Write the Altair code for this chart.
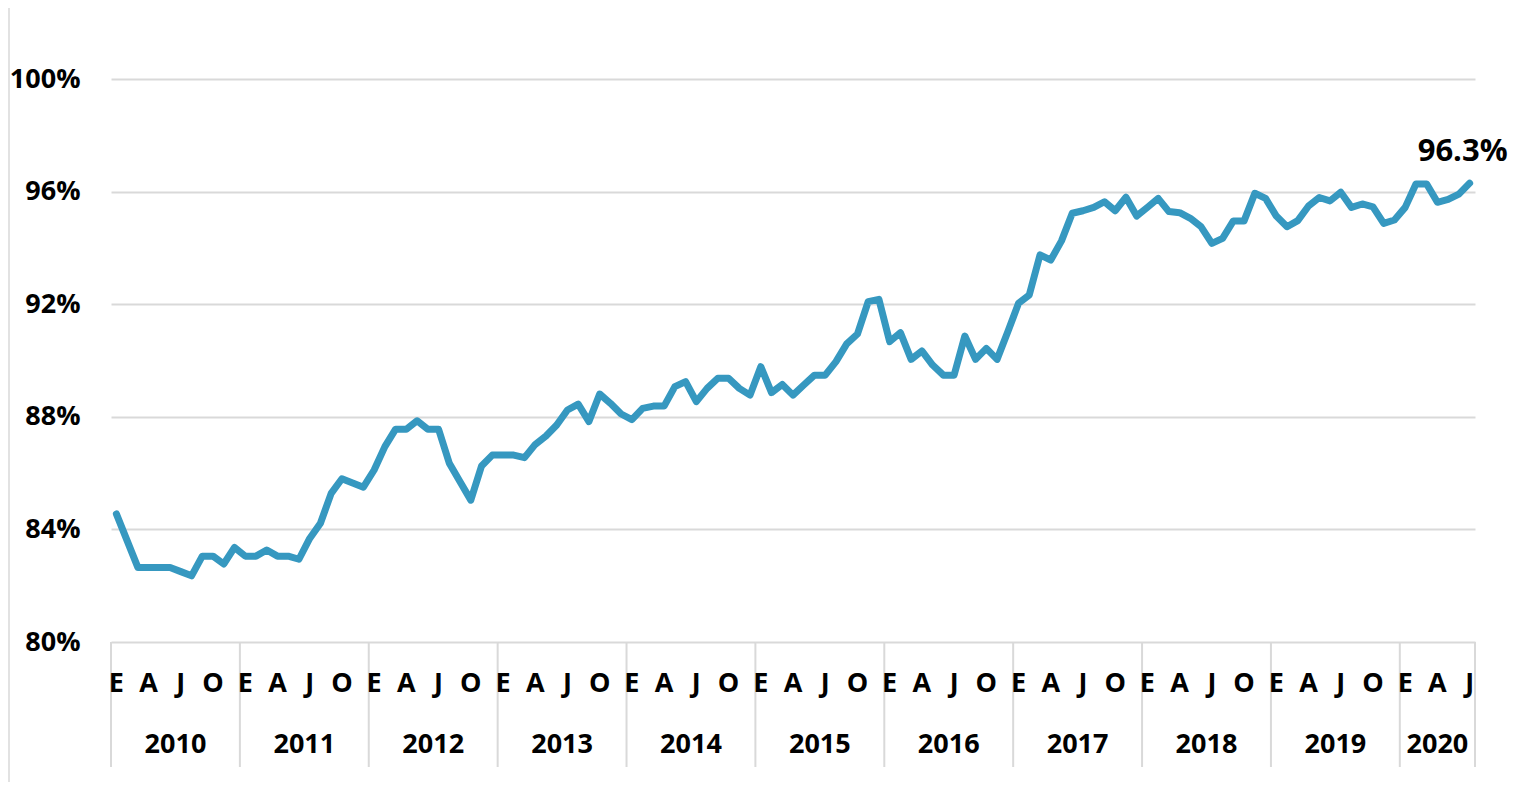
import altair as alt
import pandas as pd

# Monthly values (%), Jan 2010 - Jul 2020
v2010 = [84.55, 83.6, 82.65, 82.65, 82.65, 82.65, 82.5, 82.35, 83.05, 83.05, 82.77, 83.36]
v2011 = [83.05, 83.05, 83.27, 83.05, 83.05, 82.94, 83.68, 84.22, 85.28, 85.8, 85.65, 85.5]
v2012 = [86.11, 86.94, 87.56, 87.56, 87.86, 87.56, 87.56, 86.35, 85.69, 85.04, 86.25, 86.64]
v2013 = [86.64, 86.64, 86.55, 87.02, 87.32, 87.71, 88.24, 88.45, 87.83, 88.81, 88.48, 88.10]
v2014 = [87.9, 88.30, 88.38, 88.38, 89.07, 89.25, 88.54, 89.01, 89.37, 89.37, 89.01, 88.77]
v2015 = [89.78, 88.86, 89.15, 88.77, 89.13, 89.48, 89.48, 89.96, 90.59, 90.94, 92.09, 92.17]
v2016 = [90.67, 90.99, 90.04, 90.34, 89.84, 89.48, 89.48, 90.87, 90.04, 90.43, 90.04, 91.02]
v2017 = [92.03, 92.33, 93.75, 93.57, 94.25, 95.23, 95.32, 95.44, 95.64, 95.32, 95.80, 95.13]
v2018 = [95.44, 95.76, 95.29, 95.25, 95.05, 94.75, 94.16, 94.34, 94.96, 94.96, 95.94, 95.76]
v2019 = [95.13, 94.75, 94.97, 95.49, 95.79, 95.67, 95.98, 95.44, 95.56, 95.46, 94.87, 94.99]
v2020 = [95.44, 96.27, 96.27, 95.62, 95.72, 95.91, 96.3]

years = [2010, 2011, 2012, 2013, 2014, 2015, 2016, 2017, 2018, 2019, 2020]
series = [v2010, v2011, v2012, v2013, v2014, v2015, v2016, v2017, v2018, v2019, v2020]
month_letters = {0: "E", 3: "A", 6: "J", 9: "O"}
y_ticks = [80, 84, 88, 92, 96, 100]
last_label = "96.3%"

rows = []
month_rows = []
year_rows = []
bounds = [-0.5]
idx = 0
for yr, vals in zip(years, series):
    start = idx
    for m, v in enumerate(vals):
        rows.append({"i": idx, "v": v})
        if m in month_letters:
            month_rows.append({"i": idx, "letter": month_letters[m]})
        idx += 1
    year_rows.append({"year": str(yr), "mid": (start - 0.5 + idx - 0.5) / 2})
    bounds.append(idx - 0.5)

df = pd.DataFrame(rows)
df_months = pd.DataFrame(month_rows)
df_years = pd.DataFrame(year_rows)
df_bounds = pd.DataFrame({"b": bounds})
df_last = pd.DataFrame({"i": [rows[-1]["i"]], "v": [rows[-1]["v"]], "label": [last_label]})
n = len(df)

FONT = "Open Sans"
GRID = "#d9d9d9"
LINE = "#3698c0"

xscale = alt.Scale(domain=[-0.5, n - 0.5], nice=False, zero=False)
yscale = alt.Scale(domain=[80, 100], nice=False, zero=False)

line = alt.Chart(df).mark_line(color=LINE, strokeWidth=7, strokeJoin="round", strokeCap="round").encode(
    x=alt.X("i:Q", scale=xscale, axis=None),
    y=alt.Y("v:Q", scale=yscale,
            axis=alt.Axis(values=y_ticks, title=None, ticks=False, domain=False,
                          labelExpr="datum.value + '%'", gridColor=GRID, gridWidth=2,
                          labelFont=FONT, labelFontWeight="bold", labelFontSize=27,
                          labelColor="black", labelPadding=31)),
)

seps = alt.Chart(df_bounds).mark_rule(color=GRID, strokeWidth=2).encode(
    x=alt.X("b:Q", scale=xscale, axis=None),
    y=alt.value(563),
    y2=alt.value(688),
)

month_text = alt.Chart(df_months).mark_text(
    font=FONT, fontWeight="bold", fontSize=27, color="black", baseline="middle", align="center"
).encode(
    x=alt.X("i:Q", scale=xscale, axis=None),
    y=alt.value(605),
    text=alt.Text("letter:N"),
)

year_text = alt.Chart(df_years).mark_text(
    font=FONT, fontWeight="bold", fontSize=27, color="black", baseline="middle", align="center"
).encode(
    x=alt.X("mid:Q", scale=xscale, axis=None),
    y=alt.value(666),
    text=alt.Text("year:N"),
)

last_text = alt.Chart(df_last).mark_text(
    font=FONT, fontWeight="bold", fontSize=31, color="black", baseline="bottom", align="center",
    dx=-7, dy=-15
).encode(
    x=alt.X("i:Q", scale=xscale, axis=None),
    y=alt.Y("v:Q", scale=yscale),
    text=alt.Text("label:N"),
)

border = alt.Chart(df_last).mark_rect(fill="transparent", stroke=GRID, strokeWidth=1.5).encode(
    x=alt.value(-102), x2=alt.value(1412), y=alt.value(-72), y2=alt.value(712)
)

chart = alt.layer(border, seps, line, month_text, year_text, last_text).properties(
    width=1364, height=563,
    background="white",
    autosize=alt.AutoSizeParams(type="none"),
    padding={"left": 103, "top": 71, "right": 40, "bottom": 140},
).configure_view(stroke="transparent", strokeWidth=0)

chart.save("out.html", embed_options={"renderer": "svg", "actions": False})
